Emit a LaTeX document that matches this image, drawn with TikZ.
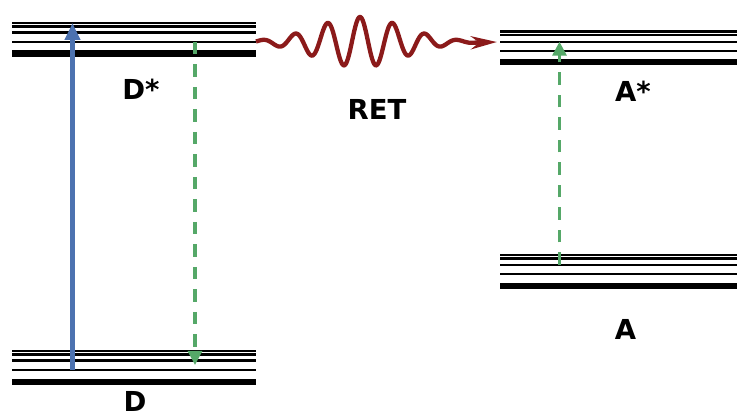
\documentclass[tikz,border=0pt]{standalone}
\usepackage{fontspec}
\setmainfont{DejaVu Sans}
\usetikzlibrary{arrows.meta}
\definecolor{levblue}{RGB}{76,114,176}
\definecolor{levgreen}{RGB}{85,168,104}
\definecolor{wavered}{RGB}{139,26,26}
\begin{document}
\begin{tikzpicture}[x=1pt,y=-1pt,
  thinlev/.style={line width=2.2pt},
  thicklev/.style={line width=6.5pt},
  lbl/.style={font=\fontsize{27.5}{30}\selectfont\bfseries, inner sep=0pt, anchor=base},
  absorb/.style={levblue, line width=5pt, -{Triangle[length=17pt,width=15pt]}},
  relax/.style={levgreen, line width=3.2pt, dash pattern=on 12.5pt off 10pt, -{Triangle[length=14pt,width=14pt]}},
  wave/.style={wavered, line width=4.3pt, -{Stealth[length=26pt,width=13pt]}}]
\useasboundingbox (0,0) rectangle (737,419);
% Donor excited
\foreach \y in {23,26.5,32.5,42} \draw[thinlev] (12,\y) -- (256,\y);
\draw[thicklev] (12,53.5) -- (256,53.5);
% Donor ground
\foreach \y in {351,354.5,360.5,370} \draw[thinlev] (12,\y) -- (256,\y);
\draw[thicklev] (12,382) -- (256,382);
% Acceptor excited
\foreach \y in {31.5,35,41.7,51} \draw[thinlev] (500,\y) -- (737,\y);
\draw[thicklev] (500,62) -- (737,62);
% Acceptor ground
\foreach \y in {255,258.5,265,274} \draw[thinlev] (500,\y) -- (737,\y);
\draw[thicklev] (500,286) -- (737,286);
% labels
\node[lbl] (dstar) at (141,100) {D*};
\node[lbl] (ret) at (377,120) {RET};
\node[lbl] (astar) at (633,101.7) {A*};
\node[lbl] (alab) at (625.5,340) {A};
\node[lbl] (dlab) at (135,412) {D};
% coordinates
\coordinate (bS) at (72.5,370);
\coordinate (bE) at (72.5,23);
\coordinate (gS) at (195,42);
\coordinate (gE) at (195,365);
\coordinate (aS) at (559.5,265);
\coordinate (aE) at (559.5,41.7);
\coordinate (wE) at (497,42);
% arrows
\draw[absorb] (bS) -- (bE);
\draw[relax] (gS) -- (gE);
\draw[relax] (aS) -- (aE);
\draw[wave] plot[domain=256:470, samples=300, smooth] (\x,{42-25*exp(-((\x-360)/62)^2)*cos((\x-360)/32.5*360)}) -- (wE);
\end{tikzpicture}
\end{document}
